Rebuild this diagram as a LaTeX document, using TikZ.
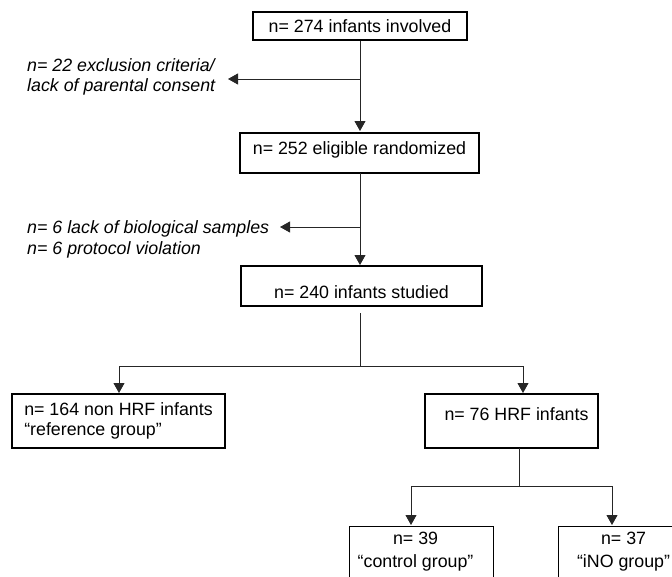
\documentclass[tikz,border=0pt]{standalone}
\usepackage{fontspec}
\setmainfont{Liberation Sans}
\usetikzlibrary{arrows.meta}
\newcommand{\bigfont}{\fontsize{17.8}{20}\selectfont}
\begin{document}
\begin{tikzpicture}[x=1pt,y=-1pt,
  every node/.style={font=\bigfont},
  box/.style={draw=black,line width=1.1pt,rectangle,inner sep=0pt},
  conn/.style={draw=black!85,line width=0.9pt},
  arr/.style={conn,-{Triangle[width=11pt,length=10pt]}},
  note/.style={font=\bigfont\itshape,anchor=west,align=left,inner sep=0pt}]
\useasboundingbox (0,0) rectangle (672,576);
\begin{scope}
\clip (0,0) rectangle (672,576);
\node[box,minimum width=214pt,minimum height=28pt] (b1) at (360,26) {\raisebox{0pt}[12.7pt][0pt]{n= 274 infants involved}};
\node[box,minimum width=239pt,minimum height=40pt] (b2) at (359.5,153) {\raisebox{5pt}[12.7pt][0pt]{n= 252 eligible randomized}};
\node[box,minimum width=241pt,minimum height=40pt] (b3) at (361.5,286) {\raisebox{-6pt}[12.7pt][0pt]{n= 240 infants studied}};
\node[box,minimum width=213pt,minimum height=54pt,align=left] (b4) at (118.5,421) {n= 164 non HRF infants\\“reference group”};
\node[box,minimum width=173pt,minimum height=54pt] (b5) at (511.5,421) {\hspace*{10pt}\raisebox{7pt}[12.7pt][0pt]{n= 76 HRF infants}};
\node[box,minimum width=144pt,inner ysep=5pt,anchor=north west] (b6) at (349,526) {\raisebox{0pt}[12.7pt][60pt]{\begin{tabular}[t]{@{}c@{}}n= 39\\[3pt]“control group”\end{tabular}\hspace*{12pt}}};
\node[box,minimum width=144pt,inner ysep=5pt,anchor=north west] (b7) at (558,526) {\raisebox{0pt}[12.7pt][60pt]{\begin{tabular}[t]{@{}c@{}}n= 37\\[3pt]“iNO group”\end{tabular}\hspace*{14pt}}};
\end{scope}
% flow
\draw[arr] (b1.south -| 360,0) -- (360,131);
\coordinate (j1) at (360,79);
\coordinate (e1) at (228,79);
\draw[arr] (j1) -- (e1);
\node[note] (t1) at (27,77) {n= 22 exclusion criteria/\\lack of parental consent};
\draw[arr] (360,173) -- (360,265);
\coordinate (j2) at (360,227);
\coordinate (e2) at (280,227);
\draw[arr] (j2) -- (e2);
\node[note] (t2) at (27,229) {n= 6 lack of biological samples};
\node[note] (t3) at (27,250) {n= 6 protocol violation};
\coordinate (s1) at (360,313);
\coordinate (s2) at (360,366);
\draw[conn] (s1) -- (s2);
\draw[arr] (s2) -- (119,366) -- (119,393);
\draw[arr] (s2) -- (523,366) -- (523,393);
\coordinate (h1) at (519,448);
\coordinate (h2) at (519,486);
\draw[conn] (h1) -- (h2);
\draw[arr] (h2) -- (411,486) -- (411,525);
\draw[arr] (h2) -- (612,486) -- (612,525);
\end{tikzpicture}
\end{document}
